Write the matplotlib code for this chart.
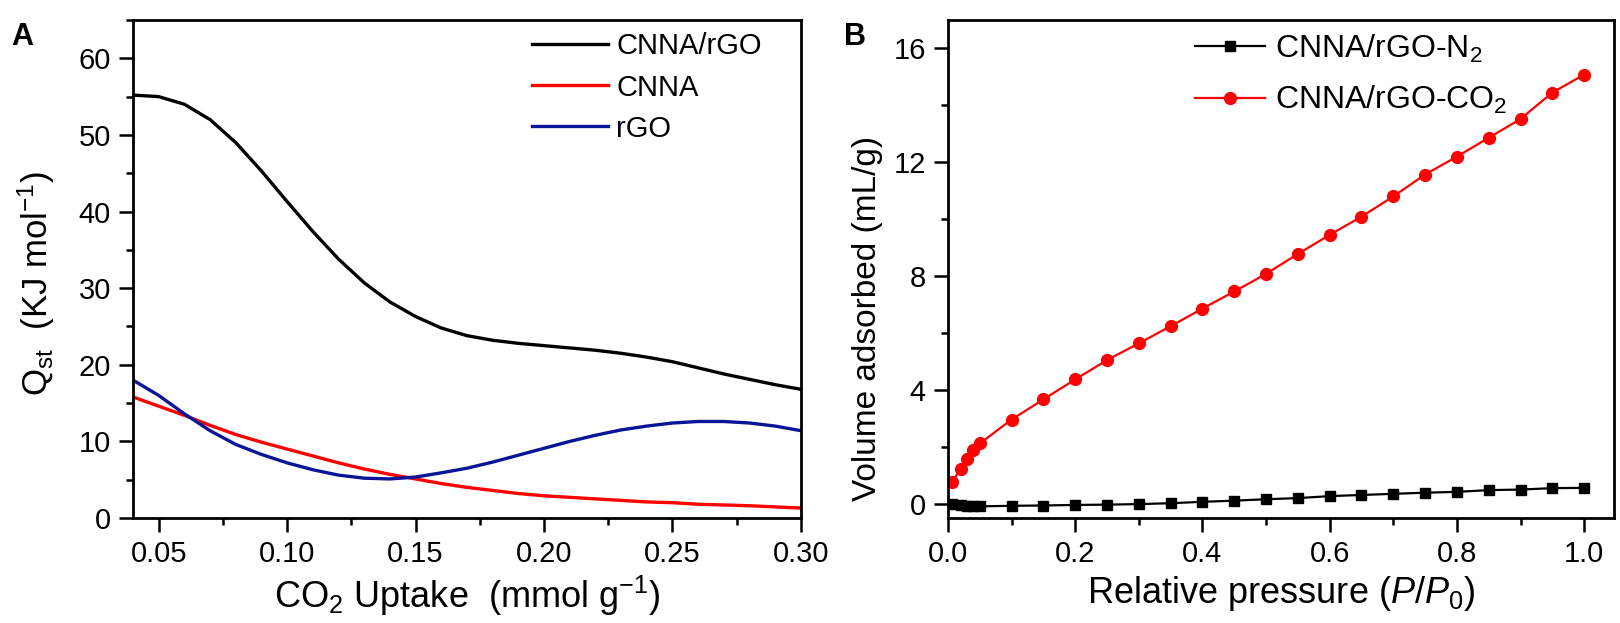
#!/usr/bin/env python3
"""Two-panel figure: isosteric heat of CO2 adsorption (A) and adsorption isotherms (B)."""
import numpy as np
import matplotlib
matplotlib.use("Agg")
import matplotlib.pyplot as plt
from matplotlib.ticker import MultipleLocator, FormatStrFormatter

# ---- panel A: Qst vs CO2 uptake ----
uptake = [0.04, 0.05, 0.06, 0.07, 0.08, 0.09, 0.10, 0.11, 0.12, 0.13, 0.14,
          0.15, 0.16, 0.17, 0.18, 0.19, 0.20, 0.21, 0.22, 0.23, 0.24, 0.25,
          0.26, 0.27, 0.28, 0.29, 0.30]
qst_cnna_rgo = [55.2, 55.0, 54.0, 52.0, 49.0, 45.3, 41.3, 37.4, 33.8, 30.7, 28.2,
                26.3, 24.8, 23.8, 23.2, 22.8, 22.5, 22.2, 21.9, 21.5, 21.0, 20.4,
                19.6, 18.8, 18.1, 17.4, 16.8]
qst_cnna = [15.8, 14.6, 13.4, 12.1, 10.9, 9.9, 9.0, 8.1, 7.2, 6.4, 5.7,
            5.1, 4.5, 4.0, 3.6, 3.2, 2.9, 2.7, 2.5, 2.3, 2.1, 2.0,
            1.8, 1.7, 1.6, 1.45, 1.3]
qst_rgo = [18.0, 16.0, 13.6, 11.4, 9.6, 8.3, 7.2, 6.3, 5.6, 5.2, 5.1,
           5.35, 5.9, 6.5, 7.3, 8.2, 9.1, 10.0, 10.8, 11.5, 12.0, 12.4,
           12.6, 12.6, 12.4, 12.0, 11.4]

# ---- panel B: volume adsorbed vs relative pressure ----
p_rel = [0.007, 0.02, 0.03, 0.04, 0.05, 0.10, 0.15, 0.20, 0.25, 0.30, 0.35, 0.40,
         0.45, 0.50, 0.55, 0.60, 0.65, 0.70, 0.75, 0.80, 0.85, 0.90, 0.95, 1.00]
vol_n2 = [-0.02, -0.04, -0.06, -0.08, -0.09, -0.07, -0.06, -0.04, -0.03, -0.01, 0.02, 0.07,
          0.11, 0.16, 0.20, 0.27, 0.31, 0.35, 0.39, 0.42, 0.48, 0.50, 0.55, 0.56]
vol_co2 = [0.78, 1.24, 1.59, 1.89, 2.12, 2.96, 3.67, 4.37, 5.05, 5.64, 6.24, 6.86,
           7.46, 8.08, 8.78, 9.45, 10.09, 10.80, 11.57, 12.20, 12.86, 13.52, 14.45, 15.08]

plt.rcParams.update({
    "font.family": ["Liberation Sans", "DejaVu Sans"],
    "mathtext.fontset": "custom",
    "mathtext.rm": "Liberation Sans",
    "mathtext.it": "Liberation Sans:italic",
    "mathtext.bf": "Liberation Sans:bold",
    "xtick.direction": "out", "ytick.direction": "out",
    "xtick.major.size": 10, "ytick.major.size": 10,
    "xtick.minor.size": 5, "ytick.minor.size": 5,
    "xtick.major.width": 1.8, "ytick.major.width": 1.8,
    "xtick.minor.width": 1.8, "ytick.minor.width": 1.8,
    "axes.linewidth": 2.0,
})

fig = plt.figure(figsize=(16.2, 6.23), dpi=100)
axA = fig.add_axes([0.0821, 0.1685, 0.4123, 0.7994])
axB = fig.add_axes([0.5852, 0.1685, 0.4111, 0.7994])

# panel A
axA.plot(uptake, qst_cnna_rgo, color="black", lw=2.4, label="CNNA/rGO")
axA.plot(uptake, qst_cnna, color="#ff0000", lw=2.4, label="CNNA")
axA.plot(uptake, qst_rgo, color="#0a1496", lw=2.4, label="rGO")
axA.set_xlim(0.04, 0.30)
axA.set_ylim(0, 65)
axA.xaxis.set_major_locator(MultipleLocator(0.05))
axA.xaxis.set_minor_locator(MultipleLocator(0.025))
axA.xaxis.set_major_formatter(FormatStrFormatter("%.2f"))
axA.yaxis.set_major_locator(MultipleLocator(10))
axA.yaxis.set_minor_locator(MultipleLocator(5))
axA.tick_params(labelsize=21, pad=6)
axA.set_xlabel(r"CO$_2$ Uptake  (mmol g$^{-1}$)", fontsize=26, labelpad=4)
axA.set_ylabel(r"Q$_{\rm st}$  (KJ mol$^{-1}$)", fontsize=25)
axA.yaxis.set_label_coords(-0.114, 0.47)
axA.legend(loc="upper left", bbox_to_anchor=(0.597, 0.975), frameon=False,
           fontsize=21, handlelength=2.6, handletextpad=0.3, labelspacing=0.45,
           borderpad=0, borderaxespad=0)

# panel B
axB.plot(p_rel, vol_n2, color="black", lw=1.6, marker="s", ms=7,
         label=r"CNNA/rGO-N$_2$")
axB.plot(p_rel, vol_co2, color="#ff0000", lw=1.6, marker="o", ms=8.5,
         label=r"CNNA/rGO-CO$_2$")
axB.set_xlim(0, 1.047)
axB.set_ylim(-0.5, 17)
axB.xaxis.set_major_locator(MultipleLocator(0.2))
axB.xaxis.set_minor_locator(MultipleLocator(0.1))
axB.xaxis.set_major_formatter(FormatStrFormatter("%.1f"))
axB.yaxis.set_major_locator(MultipleLocator(4))
axB.yaxis.set_minor_locator(MultipleLocator(2))
axB.tick_params(labelsize=21, pad=6)
axB.set_xlabel(r"Relative pressure ($\mathit{P/P_0}$)", fontsize=26, labelpad=4)
axB.set_ylabel("Volume adsorbed (mL/g)", fontsize=24)
axB.yaxis.set_label_coords(-0.097, 0.40)
axB.legend(loc="upper left", bbox_to_anchor=(0.371, 0.975), frameon=False,
           fontsize=23, handlelength=2.2, handletextpad=0.3, labelspacing=0.6,
           borderpad=0, borderaxespad=0)

fig.text(0.007, 0.965, "A", fontsize=22, fontweight="bold", va="top")
fig.text(0.521, 0.965, "B", fontsize=22, fontweight="bold", va="top")

fig.savefig("out.png", dpi=100)
